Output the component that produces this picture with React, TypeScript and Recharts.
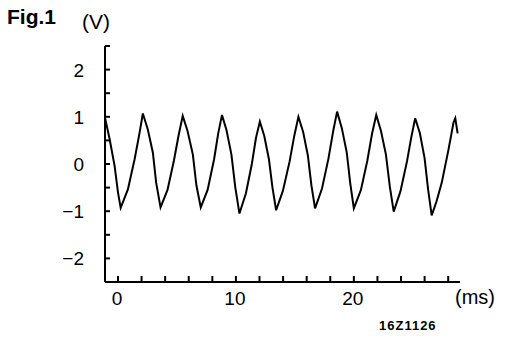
import { LineChart, Line, XAxis, YAxis } from "recharts";

// waveform: time (ms) and voltage (V)
const TIME_MS = [
  -1.1, -0.7, -0.28, 0.0, 0.23, 0.84, 1.41, 1.83, 2.11, 2.53, 2.96, 3.24, 3.61,
  4.2, 4.75, 5.15, 5.49, 5.9, 6.35, 6.65, 7.02,
  7.6, 8.15, 8.5, 8.82, 9.2, 9.62, 9.95, 10.3,
  10.85, 11.35, 11.7, 12.03, 12.4, 12.8, 13.1, 13.41,
  13.98, 14.55, 14.95, 15.3, 15.7, 16.1, 16.4, 16.71,
  17.3, 17.85, 18.25, 18.58, 18.98, 19.4, 19.7, 20.0,
  20.6, 21.15, 21.55, 21.9, 22.3, 22.72, 23.05, 23.38,
  23.95, 24.5, 24.88, 25.2, 25.6, 26.0, 26.3, 26.6,
  27.0, 27.45, 28.02, 28.45, 28.6, 28.8,
];

const VOLTS = [
  0.98, 0.52, -0.05, -0.6, -0.93, -0.54, 0.1, 0.66, 1.07, 0.73, 0.24, -0.4, -0.92,
  -0.55, 0.08, 0.62, 1.02, 0.7, 0.2, -0.45, -0.92,
  -0.55, 0.1, 0.65, 1.04, 0.72, 0.2, -0.5, -1.05,
  -0.62, 0.0, 0.55, 0.9, 0.6, 0.1, -0.5, -0.98,
  -0.57, 0.05, 0.6, 1.0, 0.68, 0.18, -0.45, -0.94,
  -0.52, 0.12, 0.7, 1.11, 0.76, 0.24, -0.42, -0.94,
  -0.55, 0.08, 0.65, 1.04, 0.7, 0.2, -0.48, -1.01,
  -0.58, 0.05, 0.58, 0.97, 0.65, 0.12, -0.55, -1.09,
  -0.8, -0.4, 0.3, 0.88, 0.97, 0.65,
];

const X_TICKS = [0, 2, 4, 6, 8, 10, 12, 14, 16, 18, 20, 22, 24, 26, 28];
const X_LABELS = [0, 10, 20];
const Y_TICKS = [-2.5, -2, -1.5, -1, -0.5, 0, 0.5, 1, 1.5, 2, 2.5];
const Y_LABELS = [-2, -1, 0, 1, 2];

const data = TIME_MS.map((t, i) => ({ t, v: VOLTS[i] }));

const FONT = "'Liberation Sans', Arial, sans-serif";

// eslint-disable-next-line @typescript-eslint/no-explicit-any
function YTick({ x, y, payload }: any) {
  const val = payload.value;
  return (
    <g>
      <line x1={x} y1={y} x2={x + 5} y2={y} stroke="#000" strokeWidth={2} />
      {Y_LABELS.includes(val) && (
        <text
          x={x - 21}
          y={y}
          dy={7}
          textAnchor="end"
          fontFamily={FONT}
          fontSize={19}
          fill="#000"
        >
          {val < 0 ? `\u2212${Math.abs(val)}` : val}
        </text>
      )}
    </g>
  );
}

// eslint-disable-next-line @typescript-eslint/no-explicit-any
function XTick({ x, y, payload }: any) {
  const val = payload.value;
  return (
    <g>
      <line x1={x} y1={y} x2={x} y2={y - 6} stroke="#000" strokeWidth={2} />
      {X_LABELS.includes(val) && (
        <text
          x={x - 1}
          y={y + 23}
          textAnchor="middle"
          fontFamily={FONT}
          fontSize={19}
          fill="#000"
        >
          {val}
        </text>
      )}
    </g>
  );
}

export default function App() {
  return (
    <div
      style={{
        position: "absolute",
        left: 0,
        top: 0,
        width: 512,
        height: 346,
        background: "#fff",
      }}
    >
      <LineChart
        width={512}
        height={346}
        data={data}
        margin={{ top: 46, right: 52, left: 65, bottom: 34 }}
      >
        <XAxis
          type="number"
          dataKey="t"
          domain={[-1.1, 29]}
          ticks={X_TICKS}
          allowDataOverflow
          height={30}
          tickSize={0}
          tickMargin={0}
          tickLine={false}
          axisLine={{ stroke: "#000", strokeWidth: 2 }}
          tick={<XTick />}
          interval={0}
        />
        <YAxis
          type="number"
          domain={[-2.5, 2.5]}
          ticks={Y_TICKS}
          allowDataOverflow
          width={40}
          tickSize={0}
          tickMargin={0}
          tickLine={false}
          axisLine={{ stroke: "#000", strokeWidth: 2 }}
          tick={<YTick />}
          interval={0}
        />
        <Line
          type="linear"
          dataKey="v"
          stroke="#000"
          strokeWidth={2}
          dot={false}
          isAnimationActive={false}
        />
      </LineChart>
      <div
        style={{
          position: "absolute",
          left: 7,
          top: 5,
          fontFamily: FONT,
          fontWeight: "bold",
          fontSize: 21,
          color: "#000",
        }}
      >
        Fig.1
      </div>
      <div
        style={{
          position: "absolute",
          left: 82,
          top: 10,
          fontFamily: FONT,
          fontSize: 21,
          color: "#000",
        }}
      >
        (V)
      </div>
      <div
        style={{
          position: "absolute",
          left: 455,
          top: 286,
          fontFamily: FONT,
          fontSize: 20,
          color: "#000",
        }}
      >
        (ms)
      </div>
      <div
        style={{
          position: "absolute",
          left: 379,
          top: 318,
          fontFamily: FONT,
          fontWeight: "bold",
          fontSize: 13,
          letterSpacing: 1,
          color: "#000",
        }}
      >
        16Z1126
      </div>
    </div>
  );
}
